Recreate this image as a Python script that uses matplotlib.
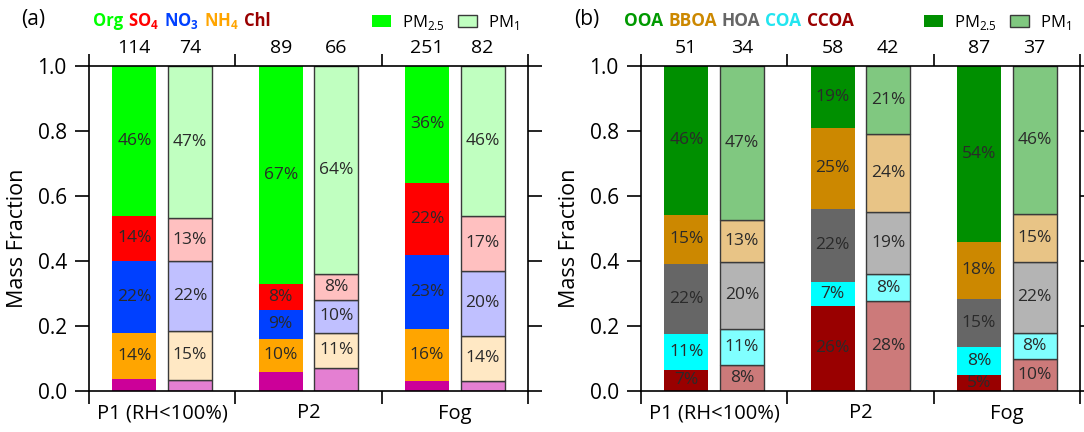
import numpy as np
import matplotlib
matplotlib.use('Agg')
import matplotlib.pyplot as plt
from matplotlib.patches import Patch

plt.rcParams['font.family'] = ['Open Sans', 'DejaVu Sans']
plt.rcParams['mathtext.fontset'] = 'custom'
plt.rcParams['mathtext.rm'] = 'Open Sans'
plt.rcParams['mathtext.bf'] = 'Open Sans:bold'

#---------------------------------------------------------------#
# data: mass fractions, bottom segment first                    #
#---------------------------------------------------------------#
groups = ['P1 (RH<100%)', 'P2', 'Fog']

# panel (a) inorganic / organic species
specA = ['Chl', 'NH4', 'NO3', 'SO4', 'Org']
a_pm25 = [[0.036, 0.144, 0.22, 0.14, 0.46],
          [0.06, 0.10, 0.09, 0.08, 0.67],
          [0.03, 0.16, 0.23, 0.22, 0.36]]
a_pm1 = [[0.035, 0.15, 0.216, 0.13, 0.469],
         [0.07, 0.11, 0.10, 0.08, 0.64],
         [0.03, 0.14, 0.20, 0.17, 0.46]]
a_n25 = [114, 89, 251]
a_n1 = [74, 66, 82]

# panel (b) OA factors
specB = ['CCOA', 'COA', 'HOA', 'BBOA', 'OOA']
b_pm25 = [[0.066, 0.11, 0.216, 0.15, 0.458],
          [0.262, 0.074, 0.224, 0.25, 0.19],
          [0.05, 0.084, 0.15, 0.176, 0.54]]
b_pm1 = [[0.08, 0.112, 0.204, 0.13, 0.474],
         [0.276, 0.084, 0.19, 0.24, 0.21],
         [0.098, 0.08, 0.22, 0.146, 0.456]]
b_n25 = [51, 58, 87]
b_n1 = [34, 42, 37]

colA_dark = ['#CC0099', '#FFA500', '#0040FF', '#FF0000', '#00FF00']
colA_light = ['#E47FD2', '#FFE8C4', '#C0C0FF', '#FFC0C0', '#C0FFC0']
colB_dark = ['#990000', '#00FFFF', '#666666', '#CC8800', '#008F00']
colB_light = ['#CC7A7A', '#80FFFF', '#B4B4B4', '#E8C486', '#80C880']


def drawPanel(ax, pm25, pm1, n25, n1, dark, light, skipFirstLabel):
  x = np.arange(len(groups))
  off = 0.19
  w = 0.30
  bot25 = np.zeros(len(groups))
  bot1 = np.zeros(len(groups))
  for k in range(len(dark)):
    v25 = np.array([g[k] for g in pm25])
    v1 = np.array([g[k] for g in pm1])
    ax.bar(x - off, v25, w, bottom=bot25, color=dark[k], linewidth=0)
    ax.bar(x + off, v1, w, bottom=bot1, color=light[k], edgecolor='#3a3a3a', linewidth=1.0)
    if not (skipFirstLabel and k == 0):
      for i in range(len(groups)):
        ax.text(x[i] - off, bot25[i] + v25[i] / 2, '{:.0f}%'.format(v25[i] * 100),
                ha='center', va='center', fontsize=12.5, color='#2a2a2a')
        ax.text(x[i] + off, bot1[i] + v1[i] / 2, '{:.0f}%'.format(v1[i] * 100),
                ha='center', va='center', fontsize=12.5, color='#2a2a2a')
    bot25 += v25
    bot1 += v1
  for i in range(len(groups)):
    ax.text(x[i] - off, 1.028, str(n25[i]), ha='center', va='bottom', fontsize=14,
            transform=ax.get_xaxis_transform())
    ax.text(x[i] + off, 1.028, str(n1[i]), ha='center', va='bottom', fontsize=14,
            transform=ax.get_xaxis_transform())

  ax.set_xlim(-0.5, 2.5)
  ax.set_ylim(0, 1.0)
  ax.set_xticks([-0.5, 0.5, 1.5, 2.5])
  ax.set_xticklabels([])
  ax.set_xticks(x, groups, minor=True)
  ax.tick_params(axis='x', which='minor', length=0, pad=9, labelsize=14.5)
  ax.tick_params(axis='x', which='major', direction='out', length=9, width=1.2,
                 top=True, bottom=True)
  ax.set_yticks(np.arange(0, 1.01, 0.2))
  ax.set_yticklabels(['{:.1f}'.format(v) for v in np.arange(0, 1.01, 0.2)])
  ax.tick_params(axis='y', direction='out', length=10, width=1.2, labelsize=15,
                 left=True, right=True, pad=6)
  ax.set_ylabel('Mass Fraction', fontsize=15.5)
  ax.yaxis.set_label_coords(-0.14, 0.47)
  for s in ax.spines.values():
    s.set_linewidth(1.2)


fig = plt.figure(figsize=(10.84, 4.32), dpi=100)
axA = fig.add_axes([89 / 1084, 41 / 432, 439 / 1084, 325 / 432])
axB = fig.add_axes([641 / 1084, 41 / 432, 439 / 1084, 325 / 432])

drawPanel(axA, a_pm25, a_pm1, a_n25, a_n1, colA_dark, colA_light, True)
drawPanel(axB, b_pm25, b_pm1, b_n25, b_n1, colB_dark, colB_light, False)

#---------------------------------------------------------------#
# panel tags and coloured headings                              #
#---------------------------------------------------------------#
fig.text(21 / 1084, 1 - 20 / 432, '(a)', fontsize=15, va='center')
fig.text(574 / 1084, 1 - 20 / 432, '(b)', fontsize=15, va='center')

renderer = fig.canvas.get_renderer()


def colouredHeading(xpix, ypix, parts, size, gap):
  for txt, col in parts:
    t = fig.text(xpix / 1084, 1 - ypix / 432, txt, color=col, fontsize=size,
                 fontweight='bold', va='center')
    bb = t.get_window_extent(renderer=renderer)
    xpix = bb.x1 + gap


colouredHeading(93, 21, [('Org', colA_dark[4]), ('SO$_\\mathbf{4}$', colA_dark[3]),
                         ('NO$_\\mathbf{3}$', colA_dark[2]), ('NH$_\\mathbf{4}$', colA_dark[1]),
                         ('Chl', '#990000')], 12, 5)
colouredHeading(624, 21, [('OOA', '#009900'), ('BBOA', '#CC8800'), ('HOA', '#666666'),
                          ('COA', '#22E5F0'), ('CCOA', '#990000')], 12.5, 5)

for ax, dark, light in [(axA, colA_dark[4], colA_light[4]), (axB, colB_dark[4], colB_light[4])]:
  handles = [Patch(facecolor=dark, edgecolor='none'),
             Patch(facecolor=light, edgecolor='#3a3a3a', linewidth=1.0)]
  ax.legend(handles, ['PM$_{2.5}$', 'PM$_1$'], ncol=2, frameon=False, fontsize=12,
            loc='center right', bbox_to_anchor=(1.0, 1.135), borderpad=0,
            handlelength=1.1, handleheight=0.7, handletextpad=0.7, columnspacing=0.8)

fig.savefig('out.png', dpi=100)
